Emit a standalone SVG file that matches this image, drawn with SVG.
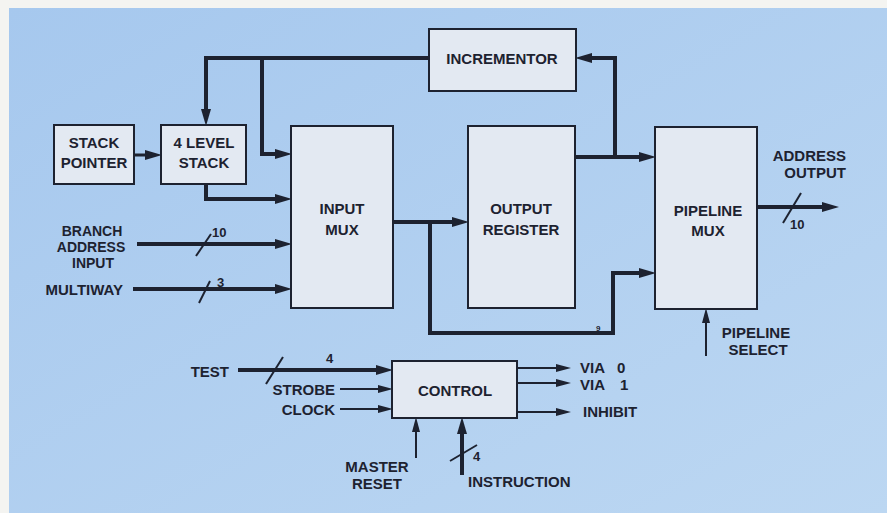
<svg xmlns="http://www.w3.org/2000/svg" width="887" height="513" viewBox="0 0 887 513">
<defs>
<linearGradient id="bg" x1="0" y1="0" x2="1" y2="1">
<stop offset="0" stop-color="#a6c8ee"/>
<stop offset="1" stop-color="#bcd7f2"/>
</linearGradient>
<marker id="ah" markerUnits="userSpaceOnUse" markerWidth="17" markerHeight="11" refX="8" refY="5" orient="auto">
<path d="M0,0 L17,5 L0,10 z" fill="#1d2230"/>
</marker>
<marker id="at" markerUnits="userSpaceOnUse" markerWidth="15" markerHeight="9" refX="7" refY="4" orient="auto">
<path d="M0,0 L15,4 L0,8 z" fill="#1d2230"/>
</marker>
<style>
.box{fill:#e3e9f2;stroke:#1d2230;stroke-width:2}
text{font-family:"Liberation Sans",Arial,sans-serif;font-weight:bold;font-size:15px;fill:#1d2230}
.c{text-anchor:middle}
.e{text-anchor:end}
.sm{font-size:13px}
.md{font-size:14px}
.thick{fill:none;stroke:#1d2230;stroke-width:4;marker-end:url(#ah)}
.thin{fill:none;stroke:#1d2230;stroke-width:2;marker-end:url(#at)}
.slash{fill:none;stroke:#1d2230;stroke-width:2}
</style>
</defs>
<rect x="0" y="0" width="887" height="513" fill="#f4f4f1"/>
<rect x="9" y="8" width="878" height="505" fill="url(#bg)"/>

<g id="connectors">
<path class="thick" d="M429,58 H206 V117"/>
<path class="thick" d="M262,58 V154 H283"/>
<path class="thick" d="M575,157 H647"/>
<path class="thick" d="M615,157 V58 H584"/>
<path class="thick" d="M206,184 V199 H283"/>
<path class="thick" style="stroke-width:3" d="M134,155 H153"/>
<path class="thick" d="M137,244 H283"/>
<path class="slash" d="M196,256 L211,234"/>
<text class="sm" x="212" y="237">10</text>
<path class="thick" d="M133,289 H283"/>
<path class="slash" d="M199,303 L210,281"/>
<text class="sm" x="217" y="287">3</text>
<path class="thick" d="M393,222 H460"/>
<path class="thick" d="M430,222 V333 H613 V273 H647"/>
<text x="596" y="331" style="font-size:8px">9</text>
<path class="thick" d="M757,207 H830"/>
<path class="slash" d="M783,223 L801,193"/>
<text class="sm" x="790" y="229">10</text>
<path class="thick" d="M238,370 H384"/>
<path class="slash" d="M266,384 L283,357"/>
<text class="sm" x="326" y="363">4</text>
<path class="thick" d="M462,475 V426"/>
<path class="slash" d="M450,461 L477,445"/>
<text class="sm" x="473" y="461">4</text>
<path class="thin" d="M340,389 H385"/>
<path class="thin" d="M340,409 H385"/>
<path class="thin" d="M517,368 H563"/>
<path class="thin" d="M517,383 H563"/>
<path class="thin" d="M517,412 H563"/>
<path class="thin" d="M416,458 V425"/>
<path class="thin" d="M706,356 V316"/>
</g>

<g id="stack-pointer">
<rect class="box" x="54" y="125" width="80" height="59"/>
<text class="c" x="94" y="148">STACK</text>
<text class="c" x="94" y="168">POINTER</text>
</g>
<g id="four-level-stack">
<rect class="box" x="161" y="125" width="85" height="59"/>
<text class="c" x="204" y="148">4 LEVEL</text>
<text class="c" x="204" y="168">STACK</text>
</g>
<g id="incrementor">
<rect class="box" x="429" y="29" width="147" height="62"/>
<text class="c" x="502" y="64">INCREMENTOR</text>
</g>
<g id="input-mux">
<rect class="box" x="291" y="126" width="102" height="182"/>
<text class="c" x="342" y="214">INPUT</text>
<text class="c" x="342" y="235">MUX</text>
</g>
<g id="output-register">
<rect class="box" x="468" y="126" width="107" height="182"/>
<text class="c" x="521" y="214">OUTPUT</text>
<text class="c" x="521" y="235">REGISTER</text>
</g>
<g id="pipeline-mux">
<rect class="box" x="655" y="127" width="102" height="182"/>
<text class="c" x="708" y="216">PIPELINE</text>
<text class="c" x="708" y="236">MUX</text>
</g>
<g id="control">
<rect class="box" x="392" y="361" width="125" height="57"/>
<text class="c" x="455" y="396">CONTROL</text>
</g>

<g id="labels">
<text class="e" x="846" y="161">ADDRESS</text>
<text class="e" x="846" y="178">OUTPUT</text>
<text class="c md" x="92" y="236">BRANCH</text>
<text class="c md" x="91" y="252">ADDRESS</text>
<text class="c md" x="93" y="268">INPUT</text>
<text class="e" x="123" y="295">MULTIWAY</text>
<text class="e" x="229" y="377">TEST</text>
<text class="e" x="335" y="395">STROBE</text>
<text class="e" x="335" y="415">CLOCK</text>
<text class="c" x="377" y="472">MASTER</text>
<text class="c" x="377" y="489">RESET</text>
<text x="468" y="487">INSTRUCTION</text>
<text x="580" y="373">VIA<tspan x="617">0</tspan></text>
<text x="580" y="390">VIA<tspan x="620">1</tspan></text>
<text x="583" y="417">INHIBIT</text>
<text class="c" x="756" y="338">PIPELINE</text>
<text class="c" x="758" y="355">SELECT</text>
</g>
</svg>
